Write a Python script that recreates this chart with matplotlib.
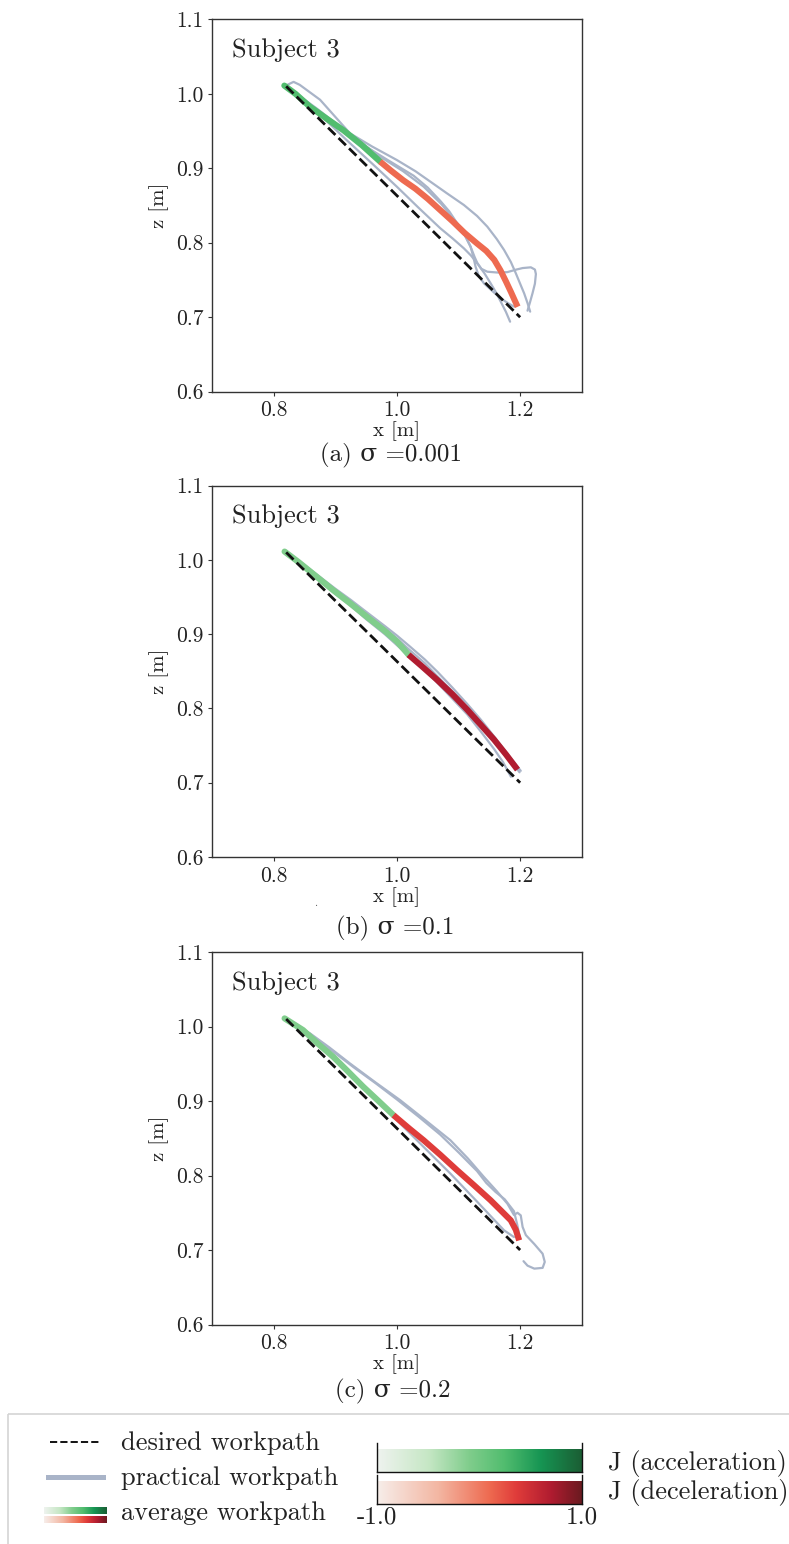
import numpy as np
import matplotlib
matplotlib.use("Agg")
import matplotlib.pyplot as plt
from matplotlib.colors import LinearSegmentedColormap

plt.rcParams['font.family'] = ['cmr10', 'DejaVu Serif']
plt.rcParams['mathtext.fontset'] = 'cm'

# ---------------------------------------------------------------- data
desired_x = [0.82, 1.20]
desired_z = [1.01, 0.70]

# (a) sigma = 0.001
a_acc_x = [0.817, 0.835, 0.858, 0.885, 0.913, 0.943, 0.9725]
a_acc_z = [1.011, 1.000, 0.983, 0.967, 0.951, 0.931, 0.909]
a_dec_x = [0.9725, 0.99, 1.01, 1.03, 1.05, 1.07, 1.09, 1.11, 1.13, 1.145, 1.158, 1.168,
           1.177, 1.185, 1.191, 1.196]
a_dec_z = [0.909, 0.897, 0.884, 0.8725, 0.859, 0.844, 0.829, 0.813, 0.799, 0.789, 0.777,
           0.763, 0.748, 0.734, 0.723, 0.714]
a_prac = [
    ([0.822, 0.832, 0.842, 0.875, 0.9236, 0.96, 0.9997, 1.03, 1.0542, 1.08, 1.1086, 1.13,
      1.1467, 1.162, 1.1739, 1.185, 1.193, 1.2, 1.2065, 1.212, 1.2163],
     [1.012, 1.016, 1.012, 0.992, 0.9469, 0.929, 0.9111, 0.896, 0.882, 0.867, 0.8507, 0.836,
      0.8216, 0.805, 0.7903, 0.774, 0.759, 0.745, 0.7321, 0.719, 0.7075]),
    ([0.822, 0.84, 0.86, 0.90, 0.9453, 0.985, 1.027, 1.05, 1.0705, 1.085, 1.0977, 1.11,
      1.1195, 1.126, 1.1303, 1.137, 1.1467, 1.163, 1.179, 1.194, 1.204, 1.2174, 1.224,
      1.2256, 1.224, 1.2201, 1.216, 1.212],
     [1.010, 0.997, 0.985, 0.959, 0.9312, 0.911, 0.890, 0.874, 0.856, 0.842, 0.8261, 0.810,
      0.7947, 0.781, 0.773, 0.765, 0.7611, 0.760, 0.7605, 0.764, 0.766, 0.767, 0.764,
      0.758, 0.745, 0.7321, 0.720, 0.7088]),
    ([0.822, 0.84, 0.86, 0.89, 0.9181, 0.96, 0.9997, 1.035, 1.0705, 1.09, 1.1086, 1.12,
      1.1303, 1.142, 1.1521, 1.161, 1.1685, 1.177, 1.1837],
     [1.010, 0.997, 0.984, 0.960, 0.9379, 0.906, 0.8753, 0.847, 0.8193, 0.806, 0.7925, 0.783,
      0.7724, 0.759, 0.7455, 0.733, 0.7209, 0.707, 0.694]),
    ([0.822, 0.845, 0.87, 0.92, 0.9725, 1.01, 1.0433, 1.072, 1.0977, 1.11, 1.1195, 1.124,
      1.1276, 1.133, 1.1412, 1.155, 1.1685, 1.18, 1.1902],
     [1.010, 0.995, 0.980, 0.948, 0.9156, 0.896, 0.8753, 0.852, 0.8261, 0.811, 0.7947, 0.781,
      0.7679, 0.755, 0.7455, 0.735, 0.7254, 0.719, 0.7142]),
]

# (b) sigma = 0.1
b_acc_x = [0.8174, 0.84, 0.8691, 0.895, 0.9236, 0.95, 0.978, 1.0, 1.0188]
b_acc_z = [1.0111, 0.997, 0.9775, 0.960, 0.9416, 0.924, 0.9058, 0.890, 0.8722]
b_dec_x = [1.0188, 1.04, 1.065, 1.09, 1.114, 1.136, 1.1576, 1.177, 1.1957]
b_dec_z = [0.8722, 0.857, 0.8386, 0.819, 0.7983, 0.778, 0.758, 0.738, 0.7176]
b_prac = [
    ([0.819, 0.845, 0.87, 0.90, 0.925, 0.95, 0.98, 1.00, 1.02, 1.045, 1.066, 1.09, 1.114,
      1.136, 1.158, 1.18, 1.201],
     [1.012, 0.996, 0.980, 0.961, 0.946, 0.930, 0.911, 0.898, 0.884, 0.866, 0.849, 0.828,
      0.806, 0.785, 0.762, 0.738, 0.716]),
    ([0.819, 0.845, 0.87, 0.90, 0.925, 0.95, 0.98, 1.00, 1.02, 1.045, 1.066, 1.09, 1.114,
      1.136, 1.158, 1.18, 1.199],
     [1.012, 0.995, 0.978, 0.959, 0.943, 0.927, 0.908, 0.894, 0.879, 0.861, 0.843, 0.823,
      0.802, 0.781, 0.759, 0.735, 0.714]),
    ([0.820, 0.845, 0.87, 0.90, 0.925, 0.95, 0.98, 1.00, 1.02, 1.045, 1.066, 1.09, 1.114,
      1.136, 1.158, 1.172, 1.185],
     [1.010, 0.992, 0.975, 0.954, 0.938, 0.920, 0.900, 0.885, 0.870, 0.852, 0.834, 0.813,
      0.792, 0.769, 0.745, 0.728, 0.708]),
]

# (c) sigma = 0.2
c_acc_x = [0.8174, 0.8474, 0.87, 0.8964, 0.92, 0.9453, 0.97, 0.9943]
c_acc_z = [1.0109, 0.9952, 0.978, 0.9593, 0.940, 0.919, 0.900, 0.881]
c_dec_x = [0.9943, 1.02, 1.0433, 1.07, 1.0977, 1.125, 1.1521, 1.17, 1.1848, 1.193, 1.1984]
c_dec_z = [0.881, 0.863, 0.8473, 0.828, 0.807, 0.787, 0.7667, 0.752, 0.7398, 0.727, 0.7129]
c_prac = [
    ([0.82, 0.84, 0.86, 0.89, 0.9236, 0.965, 1.0052, 1.045, 1.0868, 1.115, 1.1412, 1.162,
      1.1793, 1.190, 1.1957, 1.201, 1.204, 1.2093, 1.223, 1.2365, 1.240, 1.2365, 1.223,
      1.212, 1.2055],
     [1.010, 0.999, 0.990, 0.972, 0.9504, 0.925, 0.9011, 0.875, 0.8473, 0.823, 0.798, 0.779,
      0.7622, 0.747, 0.750, 0.7465, 0.731, 0.720, 0.708, 0.695, 0.684, 0.676, 0.675,
      0.679, 0.685]),
    ([0.82, 0.845, 0.87, 0.90, 0.93, 0.965, 1.00, 1.035, 1.07, 1.10, 1.13, 1.145, 1.16,
      1.175, 1.19, 1.195, 1.20],
     [1.010, 0.995, 0.982, 0.964, 0.945, 0.924, 0.902, 0.879, 0.855, 0.831, 0.806, 0.790,
      0.778, 0.768, 0.752, 0.735, 0.715]),
    ([0.82, 0.8583, 0.90, 0.95, 0.9943, 1.04, 1.0868, 1.13, 1.1739, 1.19],
     [1.010, 0.9907, 0.956, 0.915, 0.8787, 0.841, 0.8025, 0.765, 0.7264, 0.7174]),
    ([0.82, 0.85, 0.88, 0.915, 0.95, 0.975, 1.00, 1.025, 1.05, 1.075, 1.10, 1.125, 1.15,
      1.17, 1.185, 1.193, 1.198],
     [1.010, 0.992, 0.972, 0.946, 0.918, 0.898, 0.878, 0.860, 0.842, 0.824, 0.806, 0.787,
      0.768, 0.752, 0.738, 0.727, 0.716]),
]

# J value of each average-path segment (acceleration, deceleration)
J_values = [(0.24, 0.10), (-0.10, 0.70), (-0.10, 0.36)]
captions = ['(a) σ =0.001', '(b) σ =0.1', '(c) σ =0.2']
subject_label = 'Subject 3'
x_ticks = [0.8, 1.0, 1.2]
z_ticks = [0.6, 0.7, 0.8, 0.9, 1.0, 1.1]

# ---------------------------------------------------------------- colour maps
acc_cmap = LinearSegmentedColormap.from_list('acc', [
    (0.00, '#eff3ef'), (0.25, '#c6e7c5'), (0.45, '#80cd8c'),
    (0.62, '#52bd6f'), (0.80, '#169553'), (1.00, '#1b5e34')])
dec_cmap = LinearSegmentedColormap.from_list('dec', [
    (0.00, '#f7eeea'), (0.30, '#f3b6a2'), (0.55, '#ee6a50'),
    (0.68, '#e03c3a'), (0.85, '#b01c30'), (1.00, '#6b1a20')])


def jcolor(cmap, j):
    return cmap((j + 1.0) / 2.0)


GRAY = '#a9b4c8'
SPINE = '#333333'

W, H = 789, 1544
fig = plt.figure(figsize=(W / 100, H / 100), dpi=100)


def px_axes(left, top, right, bottom, **kw):
    return fig.add_axes([left / W, 1 - bottom / H, (right - left) / W, (bottom - top) / H], **kw)


panels = [
    (19.3, 391.7, a_acc_x, a_acc_z, a_dec_x, a_dec_z, a_prac, 391, 455),
    (485.5, 857.0, b_acc_x, b_acc_z, b_dec_x, b_dec_z, b_prac, 395, 928),
    (952.0, 1324.5, c_acc_x, c_acc_z, c_dec_x, c_dec_z, c_prac, 393, 1391),
]

for i, (top, bot, ax_x, ax_z, dx, dz, prac, cap_x, cap_y) in enumerate(panels):
    ax = px_axes(212.3, top, 581.7, bot)
    for px, pz in prac:
        ax.plot(px, pz, color=GRAY, lw=1.6, zorder=1, solid_capstyle='round',
                solid_joinstyle='round')
    ja, jd = J_values[i]
    ax.plot(ax_x, ax_z, color=jcolor(acc_cmap, ja), lw=4.4, zorder=2,
            solid_capstyle='round', solid_joinstyle='round')
    ax.plot(dx, dz, color=jcolor(dec_cmap, jd), lw=4.4, zorder=2,
            solid_capstyle='butt', solid_joinstyle='round')
    ax.plot(desired_x, desired_z, color='#111111', lw=2.0, ls='--', zorder=3)
    ax.set_xlim(0.7, 1.3)
    ax.set_ylim(0.6, 1.1)
    ax.set_xticks(x_ticks, [f'{v:.1f}' for v in x_ticks])
    ax.set_yticks(z_ticks, [f'{v:.1f}' for v in z_ticks])
    ax.tick_params(direction='out', length=3, width=0.8, color=SPINE,
                   labelsize=15.5, labelcolor='#222222', pad=3.5)
    for s in ax.spines.values():
        s.set_color(SPINE)
        s.set_linewidth(1.0)
    ax.set_xlabel('x [m]', fontsize=15, labelpad=1, color='#222222')
    ax.set_ylabel('z [m]', fontsize=15, labelpad=5, color='#222222')
    ax.text(0.053, 0.898, subject_label, transform=ax.transAxes, fontsize=19,
            va='baseline', ha='left', color='#222222')
    fig.text(cap_x / W, 1 - cap_y / H, captions[i], fontsize=18, ha='center', va='center',
             color='#222222')

# stray mark below panel (b)
fig.text(316 / W, 1 - 903 / H, '.', fontsize=8, ha='center', va='center', color='#555555')

# ---------------------------------------------------------------- legend panel
leg = fig.add_axes([0, 0, 1, 140 / H])
leg.axis('off')
leg.add_patch(plt.Rectangle((8, 1414), 800, 200, fill=False, edgecolor='#d4d4d4', lw=1.2))
leg.plot([50, 100], [1442, 1442], color='#111111', lw=1.4, ls='--')
leg.plot([48, 103], [1476.5, 1476.5], color=GRAY, lw=3.6)
grad = np.linspace(0, 1, 256).reshape(1, -1)
leg.imshow(grad, cmap=acc_cmap, extent=(44, 107, 1514, 1507), aspect='auto', interpolation='bilinear')
leg.imshow(grad, cmap=dec_cmap, extent=(44, 107, 1523.5, 1516.5), aspect='auto', interpolation='bilinear')
leg.set_xlim(0, W)
leg.set_ylim(H, H - 140)
leg_kw = dict(fontsize=19, va='baseline', ha='left', color='#222222')
leg.text(120.7, 1450, 'desired workpath', **leg_kw)
leg.text(120.7, 1485, 'practical workpath', **leg_kw)
leg.text(120.7, 1520, 'average workpath', **leg_kw)
leg.text(608, 1470, 'J (acceleration)', **leg_kw)
leg.text(608, 1499, 'J (deceleration)', **leg_kw)

for k, (cmap, t, b) in enumerate([(acc_cmap, 1443, 1472), (dec_cmap, 1475, 1504)]):
    cax = px_axes(377.3, t, 582, b)
    cax.imshow(np.linspace(-1, 1, 256).reshape(1, -1), cmap=cmap, vmin=-1, vmax=1,
               extent=(-1, 1, 0, 0.76), aspect='auto', interpolation='bilinear')
    cax.set_xlim(-1, 1)
    cax.set_ylim(0, 1)
    cax.spines['top'].set_visible(False)
    for s in ('left', 'right', 'bottom'):
        cax.spines[s].set_color('#111111')
        cax.spines[s].set_linewidth(1.0)
    cax.set_yticks([])
    if k == 1:
        cax.set_xticks([-1, 1], ['-1.0', '1.0'])
        cax.tick_params(axis='x', length=0, labelsize=18, pad=2, labelcolor='#222222')
    else:
        cax.set_xticks([])

fig.savefig('out.png', dpi=100)
